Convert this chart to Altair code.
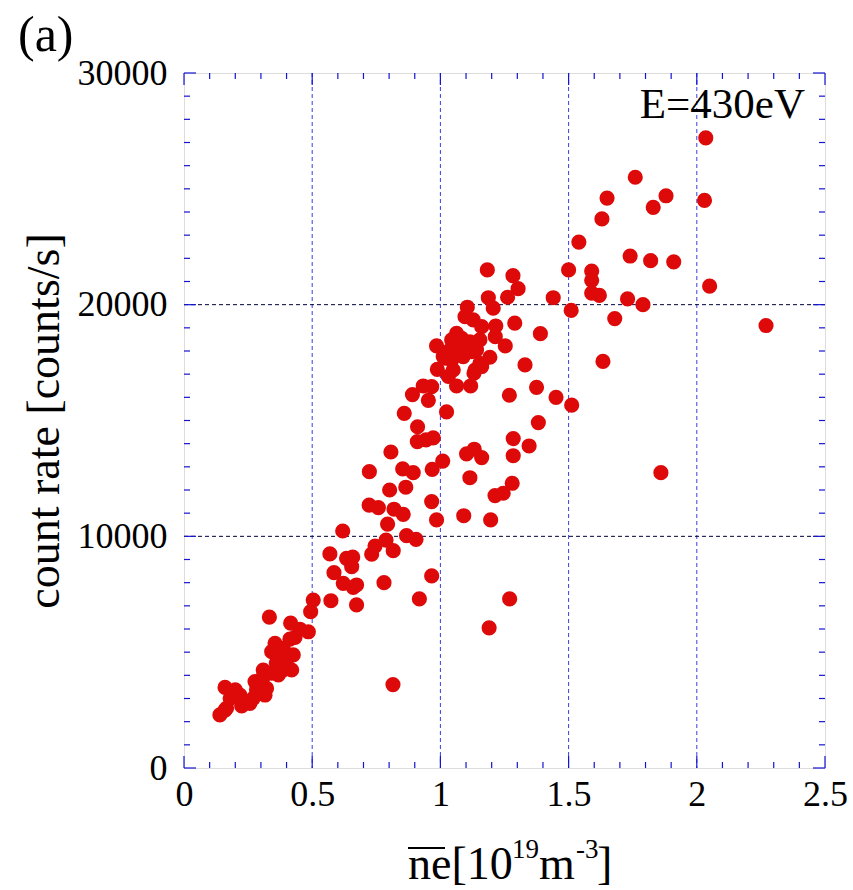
import altair as alt
import pandas as pd

# ---- data ----
ne_vals = [
    0.14, 0.16, 0.18, 0.225, 0.16, 0.20, 0.218, 0.257, 0.283, 0.27, 0.322, 0.316, 0.277, 0.303,
    0.309, 0.368, 0.342, 0.42, 0.387, 0.426, 0.40, 0.387, 0.342, 0.355, 0.433, 0.413, 0.452,
    0.485, 0.416, 0.333, 0.494, 0.504, 0.309, 0.36, 0.375, 0.166,
    0.723, 0.802, 0.722, 0.758, 0.819, 0.855, 0.794, 0.619, 0.868, 0.905, 0.788, 0.745, 0.732,
    0.816, 0.569, 0.634, 0.658, 0.654, 0.585, 0.621, 0.673, 0.660, 0.780, 0.966, 0.918, 0.573,
    0.673, 0.815, 1.19, 1.27,
    0.853, 0.894, 0.968, 1.115, 1.280, 1.245, 1.213, 0.966, 0.985, 1.091, 1.196, 0.865,
    0.807, 1.102, 1.132, 1.161, 1.009, 1.284, 1.346, 1.284, 0.910, 0.944, 0.972, 1.382, 0.859,
    1.024, 0.911, 1.512, 1.451, 1.375, 1.269, 0.953, 0.891, 0.933, 0.966, 1.063, 1.118, 1.031,
    0.988, 1.131, 1.33, 1.634,
    1.154, 1.193, 1.011, 1.044, 1.089, 1.122, 0.985, 1.141, 1.044, 1.063, 1.083, 1.105, 1.096,
    1.128, 1.161, 1.216, 1.29, 1.39, 1.214, 1.253, 1.037, 1.07, 1.115, 1.154, 1.018, 1.05,
    1.135, 1.161,
    1.183, 1.187, 1.206, 1.283, 1.303, 1.262, 1.44, 1.50, 1.54, 1.51, 1.59, 1.59, 1.59, 1.62,
    1.68, 1.73, 1.79, 2.035, 1.76, 1.88, 1.83, 1.65, 2.03, 1.63, 1.74, 1.82, 1.91, 2.05, 2.27,
    1.86,
]
rate_vals = [
    2290, 2500, 3010, 2680, 3480, 3370, 3150, 2790, 3370, 3010, 3440, 3150, 3730, 3580,
    4230, 4020, 4090, 4230, 4230, 4880, 4660, 5170, 5020, 5380, 5640, 5560, 5990,
    5880, 6250, 6510, 6750, 7250, 3930, 4530, 4960, 2580,
    12790, 12000, 11350, 11240, 11170, 10950, 10530, 10230, 10030, 9870, 9840, 9580, 9230,
    9380, 9240, 9050, 9100, 8690, 8430, 7970, 7900, 7800, 8000, 8290, 7300, 7220,
    7040, 3600, 6050, 7300,
    12910, 12750, 12890, 12530, 12290, 11860, 11760, 11500, 10710, 10890, 10710, 12120,
    13640, 13560, 13760, 13400, 13250, 14220, 13900, 13480, 14090, 14160, 14250, 14910, 15310,
    15370, 14730, 15660, 16000, 16430, 16090, 15870, 16120, 16490, 16460, 16490, 16490, 16900,
    17210, 17040, 17400, 17550,
    17470, 17730, 17760, 17610, 17760, 17970, 18220, 18050, 18480, 18760, 18550, 19890, 19480,
    19340, 19050, 19080, 19200, 18750, 18620, 18220, 18040, 18190, 18400, 18480, 17690, 17180,
    17180, 17330,
    21500, 20300, 19850, 21250, 20690, 20320, 20300, 21500, 22700, 19750, 21450, 21050, 20500, 20400,
    19400, 20250, 20000, 27200, 25500, 24700, 24200, 24600, 24500, 23700, 22100, 21900, 21850, 20800, 19100,
    12750,
]

x_major = [0, 0.5, 1, 1.5, 2, 2.5]
x_grid = [0.5, 1, 1.5, 2]
x_minor = [0.1, 0.2, 0.3, 0.4, 0.6, 0.7, 0.8, 0.9, 1.1, 1.2, 1.3, 1.4,
           1.6, 1.7, 1.8, 1.9, 2.1, 2.2, 2.3, 2.4]
y_major = [0, 10000, 20000, 30000]
y_grid = [10000, 20000]
y_minor = [v * 1000 for v in range(1, 30) if v % 10 != 0]

W, H = 641, 695
FONT = "Liberation Serif"
FRAME = "#1414d2"

xs = alt.Scale(domain=[0, 2.5], nice=False, zero=False)
ys = alt.Scale(domain=[0, 30000], nice=False, zero=False)

XAXIS = alt.Axis(
    values=x_major, labelExpr="datum.value + ''", title=None, grid=False,
    ticks=False, tickSize=0, domain=False, labelFont=FONT, labelFontSize=36,
    labelColor="black", labelPadding=9, labelFlush=False, labelOverlap=False)
YAXIS = alt.Axis(
    values=y_major, labelExpr="datum.value + ''", title=None, grid=False,
    ticks=False, tickSize=0, domain=False, labelFont=FONT, labelFontSize=36,
    labelColor="black", labelPadding=17, labelFlush=False, labelOverlap=False)


def X(field):
    return alt.X(field, scale=xs, axis=XAXIS)


def Y(field):
    return alt.Y(field, scale=ys, axis=YAXIS)


pts = pd.DataFrame({"ne": ne_vals, "rate": rate_vals})

points = alt.Chart(pts).mark_circle(size=230, color="#de0a0a", opacity=1).encode(
    x=X("ne:Q"), y=Y("rate:Q"))

vgrid = alt.Chart(pd.DataFrame({"v": x_grid})).mark_rule(
    color="#3c3ce6", strokeWidth=1, strokeDash=[4, 3]).encode(x=X("v:Q"))
hgrid = alt.Chart(pd.DataFrame({"v": y_grid})).mark_rule(
    color="#00003c", strokeWidth=1, strokeDash=[4, 3]).encode(y=Y("v:Q"))


def xticks(vals, length):
    d = pd.DataFrame({"v": vals})
    bot = alt.Chart(d).mark_rule(color=FRAME, strokeWidth=1.2).encode(
        x=X("v:Q"), y=alt.value(H), y2=alt.value(H - length))
    top = alt.Chart(d).mark_rule(color=FRAME, strokeWidth=1.2).encode(
        x=X("v:Q"), y=alt.value(0), y2=alt.value(length))
    return [bot, top]


def yticks(vals, length):
    d = pd.DataFrame({"v": vals})
    lef = alt.Chart(d).mark_rule(color=FRAME, strokeWidth=1.2).encode(
        y=Y("v:Q"), x=alt.value(0), x2=alt.value(length))
    rig = alt.Chart(d).mark_rule(color=FRAME, strokeWidth=1.2).encode(
        y=Y("v:Q"), x=alt.value(W), x2=alt.value(W - length))
    return [lef, rig]


def label(txt, x, y, size, align="left", baseline="alphabetic", angle=0):
    kw = dict(font=FONT, fontSize=size, align=align, baseline=baseline, color="black")
    if angle:
        kw["angle"] = angle
    return alt.Chart(pd.DataFrame({"t": [txt]})).mark_text(**kw).encode(
        text="t:N", x=alt.value(x), y=alt.value(y))


ticks = xticks(x_major, 12) + xticks(x_minor, 6) + yticks(y_major, 12) + yticks(y_minor, 6)

texts = [
    label("E=430eV", 621, 45, 43, align="right"),
    label("(a)", -166, -22, 50),
    label("count rate [counts/s]", -125, 348, 46, align="center", angle=270),
    label("ne[10", 224, 806, 46),
    label("19", 328, 785, 27),
    label("m", 355, 806, 46),
    label("-3", 392, 785, 27),
    label("]", 413, 806, 46),
]
overline = alt.Chart(pd.DataFrame({"t": [1]})).mark_rule(color="black", strokeWidth=2).encode(
    x=alt.value(224), x2=alt.value(261), y=alt.value(775))

chart = alt.layer(vgrid, hgrid, *ticks, points, *texts, overline).properties(
    width=W, height=H,
    autosize=alt.AutoSizeParams(type="none"),
    padding={"left": 184, "top": 73, "right": 28, "bottom": 122},
).configure_view(stroke=FRAME, strokeWidth=1.5).configure(background="white")

chart.save("out.html", embed_options={"renderer": "svg", "actions": False})
